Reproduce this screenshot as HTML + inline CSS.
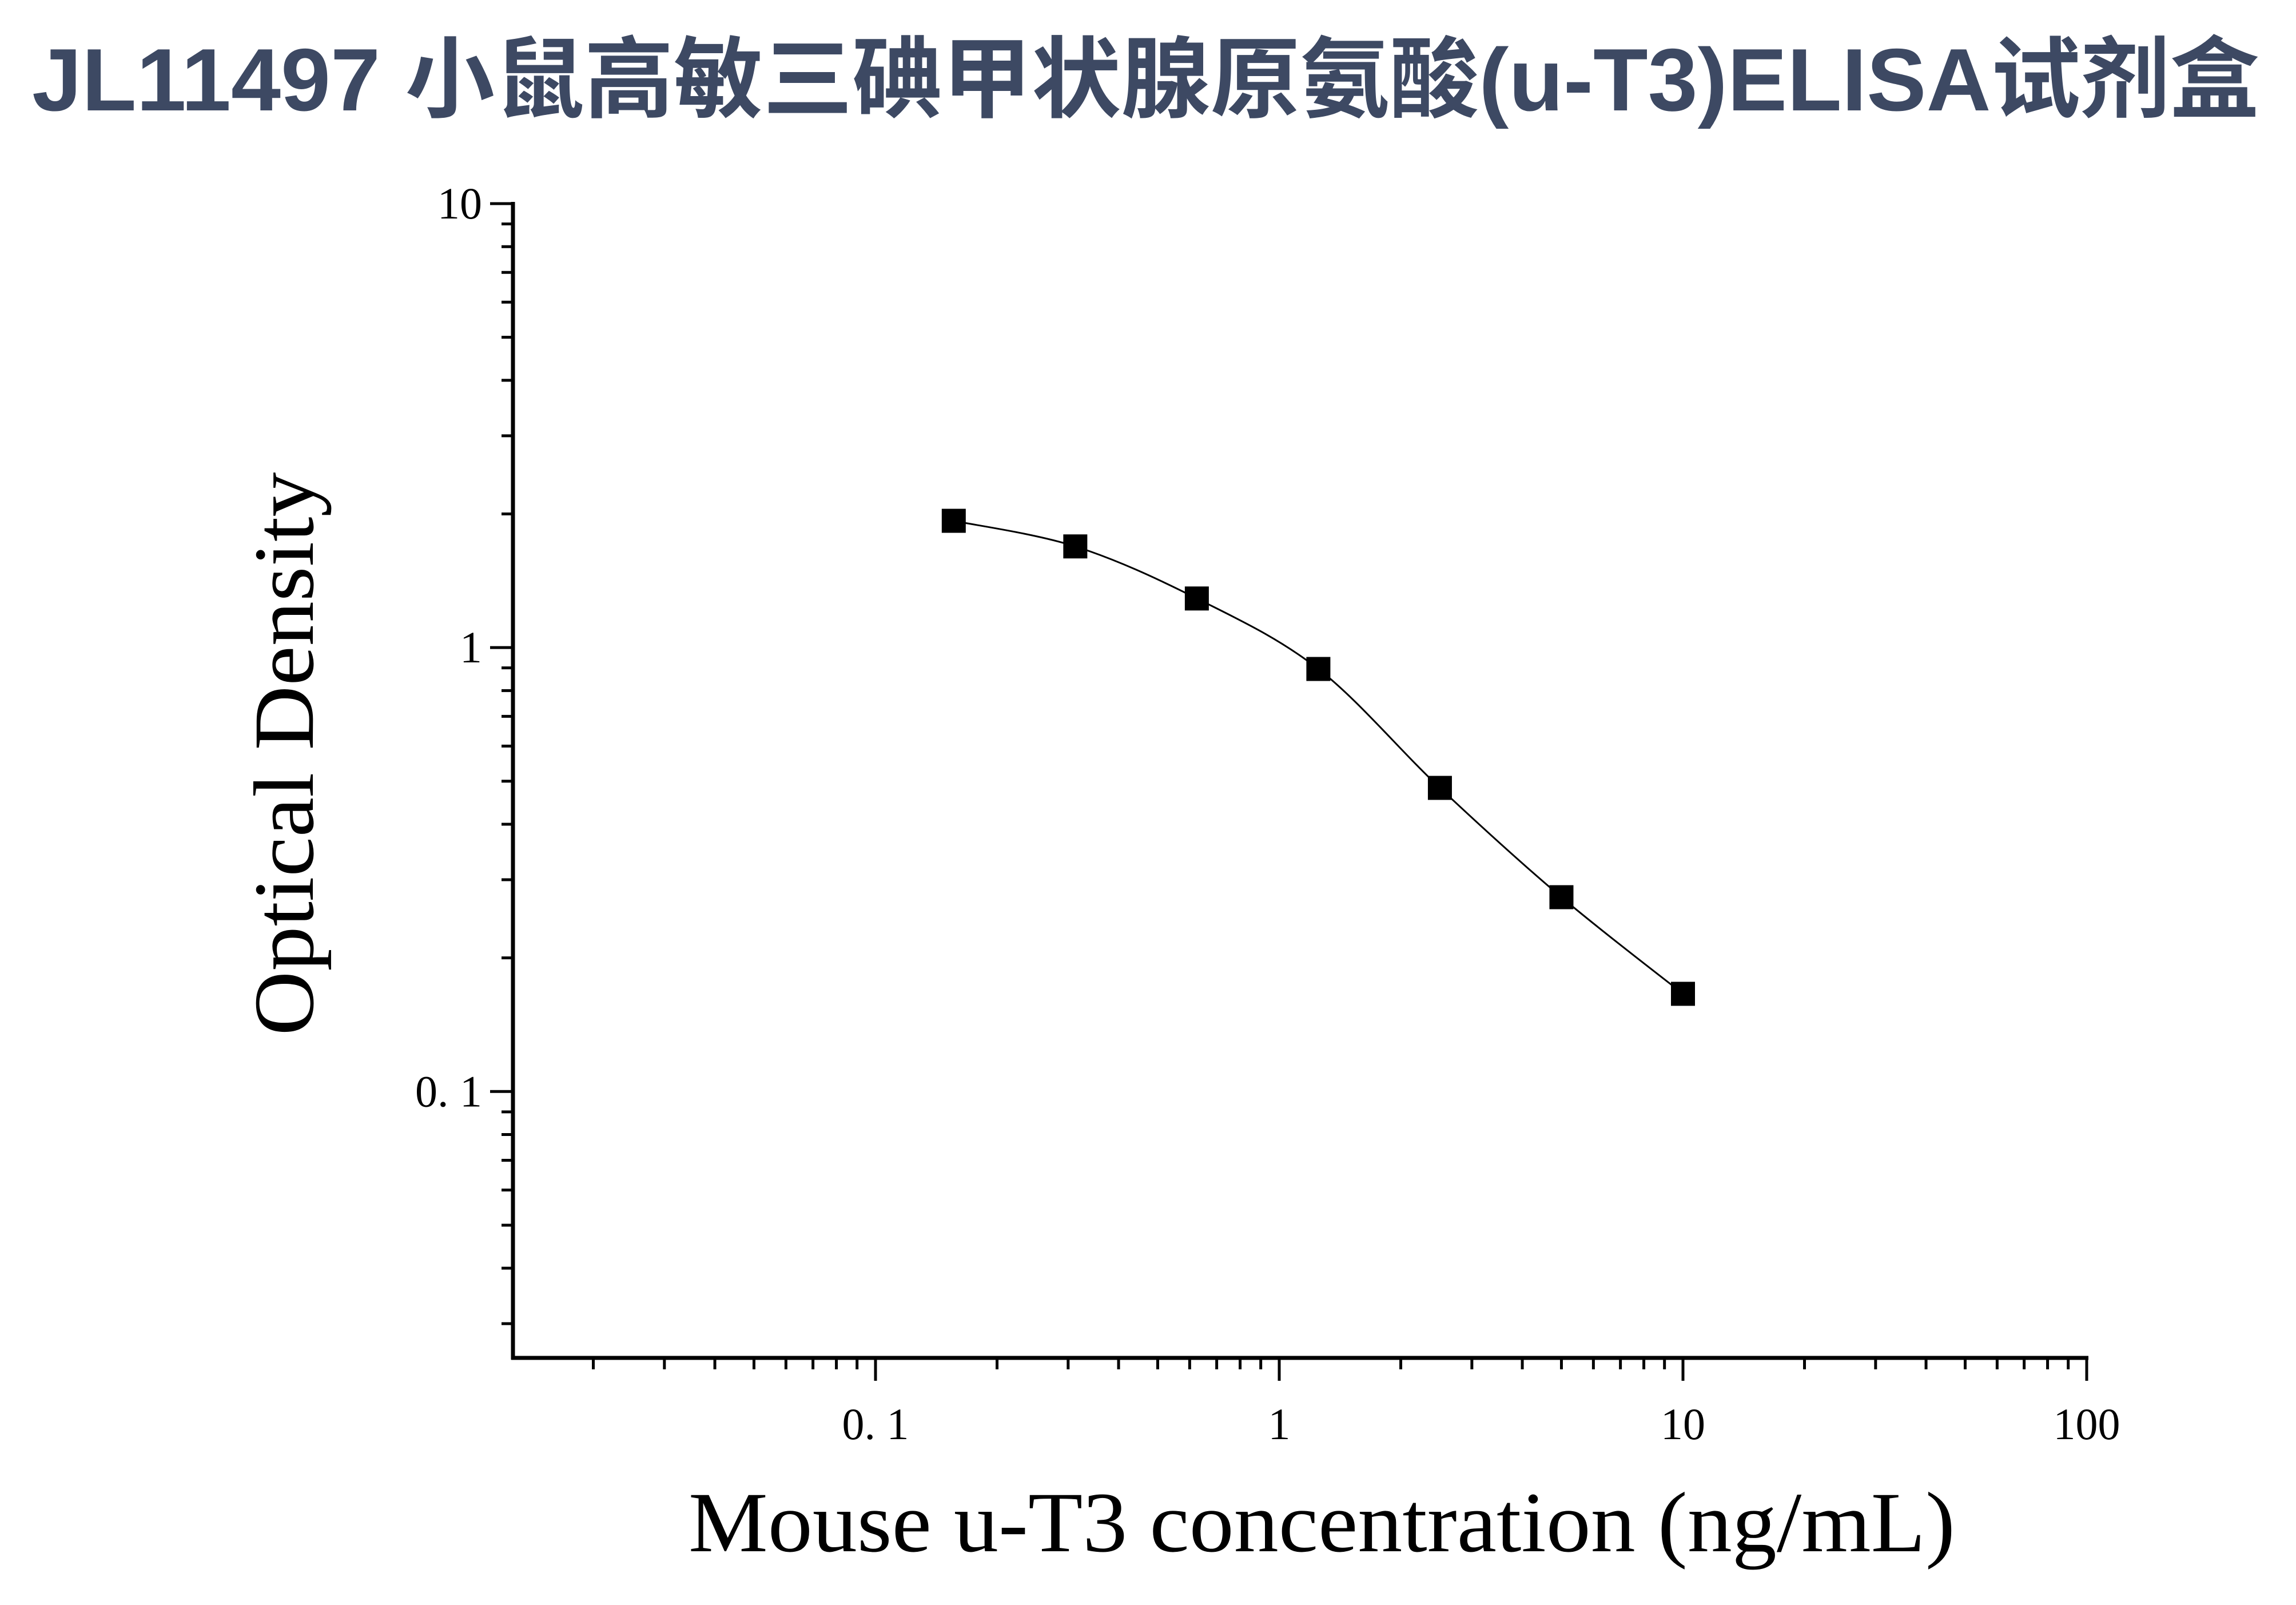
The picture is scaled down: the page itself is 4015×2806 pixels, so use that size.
<!DOCTYPE html>
<html><head><meta charset="utf-8"><style>html,body{margin:0;padding:0;background:#fff}svg{display:block}</style></head>
<body>
<svg id="chart" width="4015" height="2806" viewBox="0 0 4015 2806" xmlns="http://www.w3.org/2000/svg">
<rect width="4015" height="2806" fill="#fff"/>
<text x="56" y="193" font-family="'Liberation Sans','Noto Sans CJK SC',sans-serif" font-weight="bold" font-size="155" fill="#3d4963" textLength="3895" lengthAdjust="spacingAndGlyphs">JL11497 小鼠高敏三碘甲状腺原氨酸(u-T3)ELISA试剂盒</text>
<text transform="translate(547,1318) rotate(-90)" text-anchor="middle" font-family="'Liberation Serif',serif" font-size="150" fill="#000" textLength="985" lengthAdjust="spacingAndGlyphs">Optical Density</text>
<text x="1204" y="2712" font-family="'Liberation Serif',serif" font-size="150" fill="#000" textLength="2215" lengthAdjust="spacingAndGlyphs">Mouse u-T3 concentration (ng/mL)</text>
<g id="axes"></g><g id="plot"></g>
</svg>
<script>
const concentrations = [0.15625, 0.3125, 0.625, 1.25, 2.5, 5, 10];
const odValues = [1.93, 1.69, 1.29, 0.895, 0.483, 0.274, 0.166];
const xTickValues = [0.1, 1, 10, 100];
const xTickLabels = ["0. 1", "1", "10", "100"];
const yTickValues = [0.1, 1, 10];
const yTickLabels = ["0. 1", "1", "10"];

const NS = "http://www.w3.org/2000/svg";
const L = 897, R = 3649, T = 356, B = 2374;
const xMinLog = -1.898, xMaxLog = 2, yMinLog = -1.6, yMaxLog = 1;
const xs = v => L + (Math.log10(v) - xMinLog) / (xMaxLog - xMinLog) * (R - L);
const ys = v => B - (Math.log10(v) - yMinLog) / (yMaxLog - yMinLog) * (B - T);
function mk(tag, attrs, parent) { const e = document.createElementNS(NS, tag); for (const k in attrs) e.setAttribute(k, attrs[k]); parent.appendChild(e); return e; }
const axes = document.getElementById('axes'), plot = document.getElementById('plot');

const ya = mk('line', {x1: L, y1: T - 3, x2: L, y2: B + 3, stroke: '#000', 'stroke-width': 7}, axes);
 
const xa = mk('line', {x1: L - 3, y1: B, x2: R + 3, y2: B, stroke: '#000', 'stroke-width': 7}, axes);
 

// y minor ticks
for (let d = -2; d <= 1; d++) for (let m = 1; m <= 9; m++) {
  const v = m * Math.pow(10, d); const lv = Math.log10(v);
  if (lv < yMinLog - 1e-9 || lv > yMaxLog + 1e-9) continue;
  const len = m === 1 ? 40 : 20;
  const t = mk('line', {x1: L - len, y1: ys(v), x2: L, y2: ys(v), stroke: '#000', 'stroke-width': 5}, axes);
   
}
for (let d = -2; d <= 2; d++) for (let m = 1; m <= 9; m++) {
  const v = m * Math.pow(10, d); const lv = Math.log10(v);
  if (lv < xMinLog - 1e-9 || lv > xMaxLog + 1e-9) continue;
  const len = m === 1 ? 40 : 20;
  const t = mk('line', {x1: xs(v), y1: B, x2: xs(v), y2: B + len, stroke: '#000', 'stroke-width': 5}, axes);
   
}
yTickValues.forEach((v, i) => {
  const t = mk('text', {x: 843, y: ys(v) + 26, 'text-anchor': 'end', 'font-family': "'Liberation Serif',serif", 'font-size': 78, fill: '#000'}, axes);
  t.textContent = yTickLabels[i];
   
});
xTickValues.forEach((v, i) => {
  const t = mk('text', {x: xs(v), y: 2516, 'text-anchor': 'middle', 'font-family': "'Liberation Serif',serif", 'font-size': 78, fill: '#000'}, axes);
  t.textContent = xTickLabels[i];
   
});

// smooth curve (Catmull-Rom through data points in pixel space)
const P = concentrations.map((c, i) => [xs(c), ys(odValues[i])]);
let d = `M${P[0][0]},${P[0][1]}`;
for (let i = 0; i < P.length - 1; i++) {
  const p0 = P[Math.max(0, i - 1)], p1 = P[i], p2 = P[i + 1], p3 = P[Math.min(P.length - 1, i + 2)];
  const c1 = [p1[0] + (p2[0] - p0[0]) / 6, p1[1] + (p2[1] - p0[1]) / 6];
  const c2 = [p2[0] - (p3[0] - p1[0]) / 6, p2[1] - (p3[1] - p1[1]) / 6];
  d += ` C${c1[0]},${c1[1]} ${c2[0]},${c2[1]} ${p2[0]},${p2[1]}`;
}
const curve = mk('path', {d: d, fill: 'none', stroke: '#000', 'stroke-width': 3}, plot);
 
P.forEach(p => {
  const r = mk('rect', {x: p[0] - 21, y: p[1] - 21, width: 42, height: 42, fill: '#000'}, plot);
   
});
</script>
</body></html>
